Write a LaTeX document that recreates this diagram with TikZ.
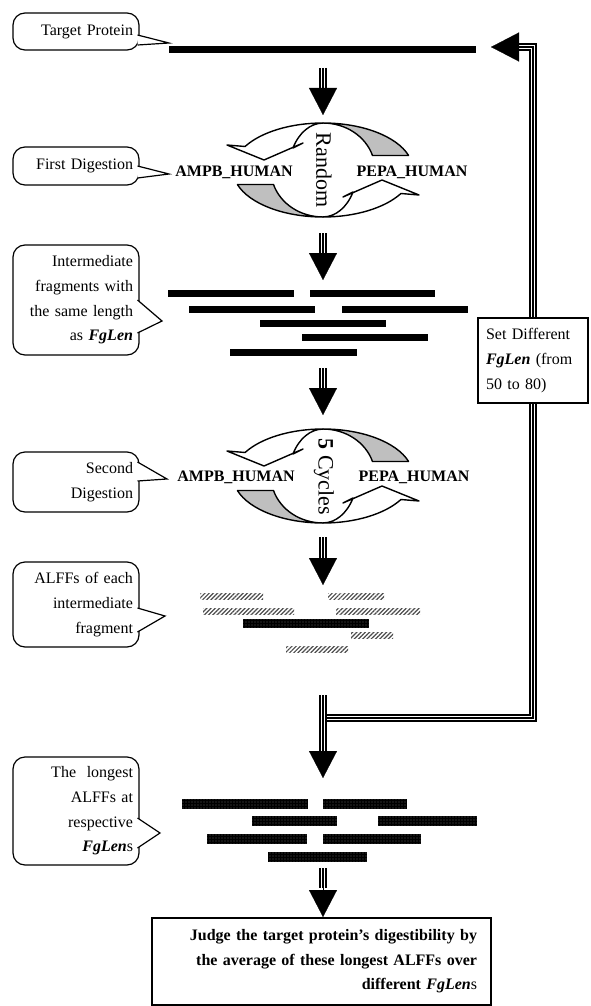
\documentclass[tikz,border=0pt]{standalone}
\usepackage{fontspec}
\setmainfont{Liberation Serif}
\usetikzlibrary{arrows.meta,patterns.meta}

\begin{document}
\begin{tikzpicture}[x=0.5pt, y=-0.5pt,
  every node/.style={font=\fontsize{8}{12.3}\selectfont},
  notebox/.style={draw, rounded corners=6pt, line width=0.6pt, minimum width=63pt, text width=57pt, inner xsep=3pt, align=right},
  pointer/.style={draw, fill=white, line width=0.6pt, line join=miter},
  tripleline/.style={draw=white, line width=2.4pt, line join=miter, preaction={draw=black, line width=4pt}, postaction={draw=black, line width=0.7pt}},
  headtip/.style={-{Triangle[length=13.5pt, width=14pt]}, line width=0.1pt},
  ribbon/.style={draw, line width=0.7pt, line join=round},
  enzyme/.style={font=\fontsize{8}{10}\selectfont\bfseries},
  turnlabel/.style={font=\fontsize{11}{13}\selectfont, rotate=-90},
  hatchbar/.style={pattern={Lines[angle=45, distance=1.5pt, line width=0.6pt]}, pattern color=black!70},
  darkbar/.style={fill=black, postaction={pattern={Dots[radius=0.22pt, distance=1.5pt]}, pattern color=white}},
  recycle/.pic={
    \filldraw[ribbon, fill=black!25] (0,-47) arc[start angle=-90, end angle=-18, x radius=90, y radius=47] -- (49.5,-14.5) arc[start angle=-18, end angle=-90, x radius=52, y radius=47] -- cycle;
    \filldraw[ribbon, fill=white] (0,-47) arc[start angle=-90, end angle=-150, x radius=90, y radius=47] -- (-96,-25) -- (-59,-10) -- (-20,-27) -- (-30,-22) arc[start angle=-152, end angle=-90, x radius=34, y radius=47] -- cycle;
    \begin{scope}[rotate=180]
    \filldraw[ribbon, fill=black!25] (0,-47) arc[start angle=-90, end angle=-18, x radius=90, y radius=47] -- (49.5,-14.5) arc[start angle=-18, end angle=-90, x radius=52, y radius=47] -- cycle;
    \filldraw[ribbon, fill=white] (0,-47) arc[start angle=-90, end angle=-150, x radius=90, y radius=47] -- (-96,-25) -- (-59,-10) -- (-20,-27) -- (-30,-22) arc[start angle=-152, end angle=-90, x radius=34, y radius=47] -- cycle;
    \end{scope}
  }
]
\useasboundingbox (0,0) rectangle (590,1006);

% feedback loop, drawn first so the box sits on it
\coordinate (fork) at (323,718);
\coordinate (loopEnd) at (519,47);
\coordinate (loopTip) at (491,47);
\draw[tripleline] (fork) -- (533,718) -- (533,47) -- (loopEnd);
\draw[-{Triangle[length=14pt, width=14.5pt]}, line width=0.1pt] (loopEnd) -- (loopTip);
\node[draw, line width=1pt, fill=white, minimum width=55pt, minimum height=42.5pt, text width=47pt, inner xsep=4pt, align=left] (setlen) at (533,360.5) {Set Different\\ \textbf{\textit{FgLen}} (from\\ 50 to 80)};

% target protein
\fill (169,46) rectangle (476,53);
\node[notebox, minimum height=18.5pt] (tp) at (76,31.5) {Target Protein};
\coordinate (tpTip) at (169,43);
\filldraw[pointer] (137.5,35) -- (tpTip) -- (137.5,45);

% first digestion
\coordinate (a1s) at (323,68);
\coordinate (a1h) at (323,88);
\coordinate (a1t) at (323,115);
\draw[tripleline] (a1s) -- (a1h);
\draw[headtip] (a1h) -- (a1t);
\pic at (323,170) {recycle};
\node[turnlabel] (rand) at (324,170) {Random};
\node[enzyme] (ampb1) at (234,172) {AMPB\_HUMAN};
\node[enzyme] (pepa1) at (412,172) {PEPA\_HUMAN};
\node[notebox, minimum height=19pt] (dig1) at (76,166) {First Digestion};
\coordinate (dig1Tip) at (169,174);
\filldraw[pointer] (137.5,166) -- (dig1Tip) -- (137.5,178);

% intermediate fragments
\coordinate (a2s) at (323,233);
\coordinate (a2h) at (323,253);
\coordinate (a2t) at (323,280);
\draw[tripleline] (a2s) -- (a2h);
\draw[headtip] (a2h) -- (a2t);
\fill (168,289.5) rectangle (294,296.5);
\fill (310,289.5) rectangle (435,296.5);
\fill (189,305.5) rectangle (315,312.5);
\fill (342,305.5) rectangle (468,312.5);
\fill (260,319.5) rectangle (386,326.5);
\fill (302,333.5) rectangle (428,340.5);
\fill (230,348.5) rectangle (357,355.5);
\node[notebox, minimum height=55pt] (mid) at (76,300) {Intermediate\\ fragments with\\ the same length\\ as \textbf{\textit{FgLen}}};
\coordinate (midTip) at (162,321);
\filldraw[pointer] (137.5,300) -- (midTip) -- (137.5,333);

% second digestion
\coordinate (a3s) at (323,368);
\coordinate (a3h) at (323,390);
\coordinate (a3t) at (323,415);
\draw[tripleline] (a3s) -- (a3h);
\draw[headtip] (a3h) -- (a3t);
\pic at (323,476) {recycle};
\node[turnlabel] (cyc) at (324,477) {\textbf{5} Cycles};
\node[enzyme] (ampb2) at (236,477) {AMPB\_HUMAN};
\node[enzyme] (pepa2) at (414,477) {PEPA\_HUMAN};
\node[notebox, minimum height=30pt] (dig2) at (76,482) {Second\\ Digestion};
\coordinate (dig2Tip) at (167,479);
\filldraw[pointer] (137.5,462) -- (dig2Tip) -- (137.5,481);

% ALFFs of each fragment
\coordinate (a4s) at (323,537);
\coordinate (a4h) at (323,558);
\coordinate (a4t) at (323,585);
\draw[tripleline] (a4s) -- (a4h);
\draw[headtip] (a4h) -- (a4t);
\fill[hatchbar] (200,593) rectangle (263,599);
\fill[hatchbar] (328,593) rectangle (384,599);
\fill[hatchbar] (203,608) rectangle (294,614);
\fill[hatchbar] (336,608) rectangle (420,614);
\fill[darkbar] (243,618.5) rectangle (369,627.5);
\fill[hatchbar] (351,632) rectangle (393,638);
\fill[hatchbar] (286,646) rectangle (348,652);
\node[notebox, minimum height=42.5pt] (alff) at (76,604.5) {ALFFs of each\\ intermediate\\ fragment};
\coordinate (alffTip) at (165,616);
\filldraw[pointer] (137.5,608) -- (alffTip) -- (137.5,632);

% longest ALFFs
\coordinate (a5s) at (323,695);
\coordinate (a5h) at (323,752);
\coordinate (a5t) at (323,778);
\draw[tripleline] (a5s) -- (a5h);
\draw[headtip] (a5h) -- (a5t);
\fill[darkbar] (182,799) rectangle (308,809);
\fill[darkbar] (323,799) rectangle (407,809);
\fill[darkbar] (252,816) rectangle (337,826);
\fill[darkbar] (378,816) rectangle (477,826);
\fill[darkbar] (207,834) rectangle (307,844);
\fill[darkbar] (323,834) rectangle (421,844);
\fill[darkbar] (268,852) rectangle (367,862);
\node[notebox, minimum height=54pt] (best) at (76,811) {The\ \ longest\hspace*{4pt}\\ ALFFs at\\ respective\\ \textbf{\textit{FgLen}}s};
\coordinate (bestTip) at (160,833);
\filldraw[pointer] (137.5,818) -- (bestTip) -- (137.5,848);

% judgement
\coordinate (a6s) at (323,868);
\coordinate (a6h) at (323,888);
\coordinate (a6t) at (323,917);
\draw[tripleline] (a6s) -- (a6h);
\draw[headtip] (a6h) -- (a6t);
\node[draw, line width=1.25pt, minimum width=169.5pt, minimum height=43.5pt, text width=155.5pt, inner xsep=7pt, align=right, font=\fontsize{8}{12.3}\selectfont\bfseries] (judge) at (321.5,961.5) {Judge the target protein’s digestibility by\\ the average of these longest ALFFs over\\ different \textit{FgLen}{\mdseries s}};
\end{tikzpicture}
\end{document}
